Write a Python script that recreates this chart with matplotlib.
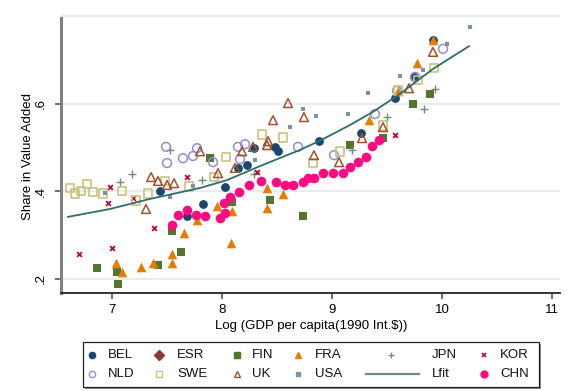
import matplotlib
matplotlib.use("Agg")
import matplotlib.pyplot as plt
from matplotlib.patches import Rectangle

plt.rcParams['font.family'] = ['Liberation Sans', 'DejaVu Sans']

# ---------------- data (log GDP per capita, share in value added) ----------------
bel_x = [7.436, 7.682, 7.827, 8.027, 8.145, 8.227, 8.291, 8.482, 8.509, 8.882, 9.264, 9.573, 9.745, 9.918]
bel_y = [0.400, 0.343, 0.370, 0.409, 0.453, 0.459, 0.498, 0.501, 0.491, 0.514, 0.533, 0.613, 0.661, 0.745]

esr_x = []
esr_y = []

fin_x = [6.864, 7.045, 7.055, 7.418, 7.545, 7.627, 7.891, 8.091, 8.436, 8.736, 9.164, 9.464, 9.736, 9.891]
fin_y = [0.224, 0.215, 0.187, 0.231, 0.309, 0.261, 0.475, 0.375, 0.379, 0.343, 0.505, 0.521, 0.599, 0.622]

fra_x = [7.036, 7.091, 7.264, 7.373, 7.545, 7.545, 7.655, 7.773, 7.955, 8.082, 8.091, 8.409, 8.409, 8.555, 9.336, 9.600, 9.773, 9.918]
fra_y = [0.235, 0.215, 0.226, 0.235, 0.256, 0.235, 0.304, 0.334, 0.366, 0.281, 0.354, 0.407, 0.361, 0.393, 0.562, 0.629, 0.693, 0.745]

jpn_x = [7.073, 7.182, 7.527, 7.818, 8.291, 9.182, 9.500, 9.836, 9.936]
jpn_y = [0.421, 0.439, 0.494, 0.425, 0.439, 0.494, 0.569, 0.587, 0.633]

kor_x = [6.700, 6.964, 6.982, 7.000, 7.191, 7.382, 7.682, 8.318, 9.573]
kor_y = [0.256, 0.373, 0.409, 0.270, 0.384, 0.315, 0.432, 0.443, 0.528]

nld_x = [7.491, 7.500, 7.645, 7.736, 7.773, 7.918, 8.145, 8.164, 8.209, 8.691, 9.018, 9.391, 9.591, 9.755, 10.009]
nld_y = [0.501, 0.464, 0.475, 0.480, 0.498, 0.466, 0.501, 0.473, 0.507, 0.501, 0.482, 0.576, 0.629, 0.661, 0.725]

swe_x = [6.618, 6.664, 6.718, 6.773, 6.827, 6.918, 7.091, 7.218, 7.327, 7.482, 7.700, 7.927, 8.036, 8.364, 8.555, 8.827, 9.073, 9.464, 9.600, 9.782, 9.927]
swe_y = [0.407, 0.395, 0.400, 0.416, 0.398, 0.395, 0.400, 0.379, 0.395, 0.423, 0.411, 0.432, 0.478, 0.530, 0.523, 0.464, 0.491, 0.549, 0.629, 0.654, 0.681]

uk_x = [7.309, 7.355, 7.418, 7.500, 7.564, 7.800, 7.964, 8.118, 8.182, 8.282, 8.409, 8.418, 8.464, 8.600, 8.745, 8.836, 9.064, 9.273, 9.464, 9.700, 9.918]
uk_y = [0.359, 0.432, 0.423, 0.414, 0.418, 0.491, 0.441, 0.453, 0.491, 0.501, 0.505, 0.514, 0.562, 0.601, 0.569, 0.482, 0.466, 0.521, 0.546, 0.635, 0.718]

usa_x = [6.936, 7.527, 7.736, 8.300, 8.618, 8.736, 8.855, 9.145, 9.327, 9.618, 9.827, 10.045, 10.255]
usa_y = [0.395, 0.386, 0.411, 0.471, 0.546, 0.587, 0.571, 0.576, 0.624, 0.663, 0.677, 0.736, 0.775]

lfit_x = [6.600, 6.982, 7.345, 7.800, 8.045, 8.345, 8.709, 8.882, 9.164, 9.373, 9.618, 9.918, 10.245]
lfit_y = [0.341, 0.359, 0.382, 0.407, 0.425, 0.457, 0.494, 0.514, 0.551, 0.581, 0.622, 0.679, 0.731]

chn_x = [7.545, 7.600, 7.682, 7.764, 7.845, 7.982, 8.027, 8.018, 8.073, 8.155, 8.245, 8.355, 8.491, 8.573, 8.645, 8.736, 8.782, 8.836, 8.918, 9.009, 9.100, 9.164, 9.236, 9.309, 9.364, 9.427]
chn_y = [0.322, 0.345, 0.357, 0.345, 0.343, 0.338, 0.350, 0.373, 0.386, 0.398, 0.414, 0.423, 0.421, 0.414, 0.414, 0.421, 0.430, 0.430, 0.441, 0.441, 0.441, 0.455, 0.466, 0.478, 0.503, 0.517]

x_ticks = [7, 8, 9, 10, 11]
y_ticks = [0.2, 0.4, 0.6]
y_tick_labels = ['.2', '.4', '.6']
grid_y = [0.2, 0.4, 0.6, 0.8]

# ---------------- styles ----------------
C = dict(BEL='#1a476f', ESR='#90353b', FIN='#55752f', FRA='#e37e00', JPN='#6e8e84',
         KOR='#c10534', NLD='#938dd2', SWE='#cac27e', UK='#a0522d', USA='#7b92a8',
         LFIT='#2e6e66', CHN='#ff0a80')

fig = plt.figure(figsize=(5.8, 3.91), dpi=100)
ax = fig.add_axes([61/580, 1-293/391, (560-61)/580, (293-14)/391])

for gy in grid_y:
    ax.axhline(gy, color='#ebebeb', lw=1.6, zorder=0)

ax.scatter(bel_x, bel_y, s=40, marker='o', color=C['BEL'], lw=0, zorder=3)
ax.scatter(esr_x, esr_y, s=34, marker='D', color=C['ESR'], lw=0, zorder=3)
ax.scatter(fin_x, fin_y, s=40, marker='s', color=C['FIN'], lw=0, zorder=3)
ax.scatter(fra_x, fra_y, s=48, marker='^', color=C['FRA'], lw=0, zorder=3)
ax.scatter(jpn_x, jpn_y, s=34, marker='+', color=C['JPN'], lw=1.0, zorder=3)
ax.scatter(kor_x, kor_y, s=12, marker='x', color=C['KOR'], lw=1.3, zorder=3)
ax.scatter(nld_x, nld_y, s=40, marker='o', facecolor='none', edgecolor=C['NLD'], lw=1.1, zorder=3)
ax.scatter(swe_x, swe_y, s=40, marker='s', facecolor='none', edgecolor=C['SWE'], lw=1.2, zorder=3)
ax.scatter(uk_x, uk_y, s=40, marker='^', facecolor='none', edgecolor=C['UK'], lw=1.1, zorder=3)
ax.scatter(usa_x, usa_y, s=9, marker='s', color=C['USA'], lw=0, zorder=3)
ax.plot(lfit_x, lfit_y, color=C['LFIT'], lw=1.3, zorder=3)
ax.scatter(chn_x, chn_y, s=48, marker='o', color=C['CHN'], lw=0, zorder=4)

ax.set_xlim(6.536, 11.073)
ax.set_ylim(0.167, 0.8046)
ax.set_xticks(x_ticks)
ax.set_xticklabels([str(t) for t in x_ticks], fontsize=9.5)
ax.set_yticks(y_ticks)
ax.set_yticklabels(y_tick_labels, fontsize=9.5, rotation=90, va='center')
ax.tick_params(axis='both', length=4, width=1.2, color='#555555', pad=4)
ax.tick_params(axis='y', pad=6)

for s in ['top', 'right']:
    ax.spines[s].set_visible(False)
ax.spines['left'].set_color('#808080')
ax.spines['left'].set_linewidth(2.2)
ax.spines['left'].set_bounds(0.167, 0.796)
ax.spines['bottom'].set_color('#333333')
ax.spines['bottom'].set_linewidth(1.4)

ax.set_xlabel('Log (GDP per capita(1990 Int.$))', fontsize=9.5)
ax.set_ylabel('Share in Value Added', fontsize=9.5)
ax.xaxis.set_label_coords((311-61)/499, -33/279)
ax.xaxis.label.set_va('center')
ax.yaxis.set_label_coords((28-61)/499, 0.49)
ax.yaxis.label.set_va('center')

# ---------------- legend (drawn manually in pixel coordinates) ----------------
lax = fig.add_axes([0, 0, 1, 1], zorder=5)
lax.set_xlim(0, 580)
lax.set_ylim(391, 0)
lax.axis('off')
lax.add_patch(Rectangle((85, 344), 456, 45, facecolor='#8c8c8c', edgecolor='none'))
lax.add_patch(Rectangle((83, 342), 456, 45, facecolor='white', edgecolor='#222222', lw=0.9))

r1, r2 = 354.5, 374
entries = [
    ('BEL', 92, 108, r1, dict(marker='o', ms=4.5, color=C['BEL'], mec=C['BEL'])),
    ('ESR', 159, 177, r1, dict(marker='D', ms=5, color=C['ESR'], mec=C['ESR'])),
    ('FIN', 237, 252, r1, dict(marker='s', ms=4.5, color=C['FIN'], mec=C['FIN'])),
    ('FRA', 298, 315, r1, dict(marker='^', ms=5, color=C['FRA'], mec=C['FRA'])),
    ('JPN', 391, 432, r1, dict(marker='+', ms=5, color=C['JPN'], mec=C['JPN'], mew=1)),
    ('KOR', 484, 500, r1, dict(marker='x', ms=3.2, color=C['KOR'], mec=C['KOR'], mew=1.2)),
    ('NLD', 92, 108, r2, dict(marker='o', ms=4.5, mfc='none', mec=C['NLD'], mew=1)),
    ('SWE', 159, 177, r2, dict(marker='s', ms=4, mfc='none', mec=C['SWE'], mew=1)),
    ('UK', 237, 252, r2, dict(marker='^', ms=4.5, mfc='none', mec=C['UK'], mew=1)),
    ('USA', 298, 315, r2, dict(marker='s', ms=2.3, color=C['USA'], mec=C['USA'])),
    ('CHN', 484, 500, r2, dict(marker='o', ms=5, color=C['CHN'], mec=C['CHN'])),
]
for lab, mx, tx, ry, kw in entries:
    lax.plot([mx], [ry], linestyle='none', **kw)
    lax.text(tx, ry, lab, fontsize=9.5, va='center', ha='left', color='#111111')
lax.plot([366, 419], [r2, r2], color='#6e8e84', lw=1.6)
lax.text(432, r2, 'Lfit', fontsize=9.5, va='center', ha='left', color='#111111')

fig.savefig('out.png', dpi=100)
